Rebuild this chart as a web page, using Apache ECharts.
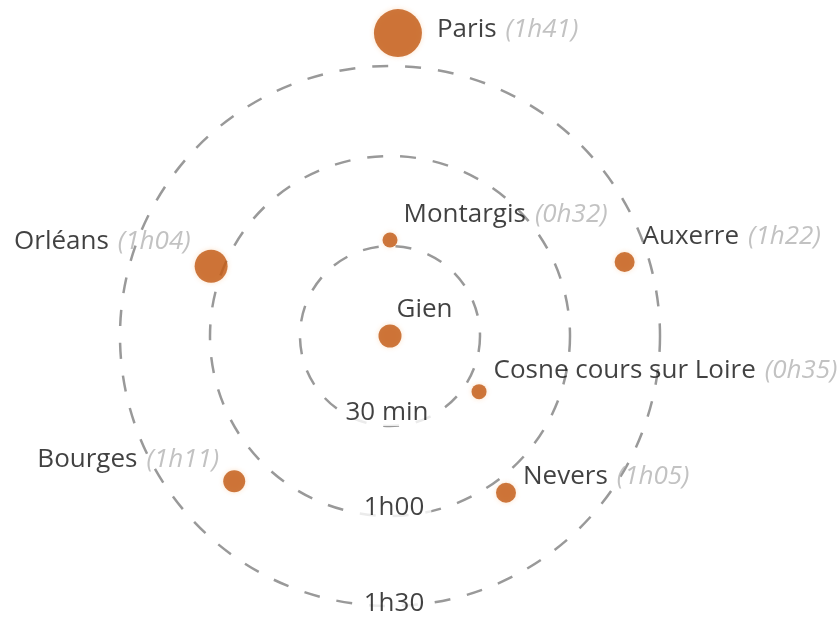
<!DOCTYPE html>
<html>
<head>
<meta charset="utf-8">
<script src="https://cdn.jsdelivr.net/npm/echarts@6/dist/echarts.min.js"></script>
<style>
    html, body { margin: 0; padding: 0; background: #fff; }
    #main { width: 840px; height: 626px; }
</style>
</head>
<body>
<div id="main"></div>
<script>
// temps de trajet depuis Gien
var villes = ['Paris', 'Montargis', 'Auxerre', 'Orléans', 'Gien', 'Cosne cours sur Loire', 'Bourges', 'Nevers'];
var temps = ['1h41', '0h32', '1h22', '1h04', '', '0h35', '1h11', '1h05'];
var minutes = [101, 32, 82, 64, 0, 35, 71, 65];
var directions = [88.5, 90, 17.5, 158.7, 0, 328, 223, 306.5];

// anneaux
var anneaux = [30, 60, 90];
var anneauxLabels = ['30 min', '1h00', '1h30'];

// taille des points et position des étiquettes
var styleVille = {
    'Paris': {size: 48, pos: 'right', dist: 15, dy: -4},
    'Montargis': {size: 15, pos: 'right', dist: 6, dy: -25},
    'Auxerre': {size: 20, pos: 'right', dist: 8, dy: -25},
    'Orléans': {size: 33, pos: 'left', dist: 4, dy: -25},
    'Gien': {size: 23, pos: 'right', dist: -5, dy: -26},
    'Cosne cours sur Loire': {size: 15, pos: 'right', dist: 7, dy: -21},
    'Bourges': {size: 22, pos: 'left', dist: 4, dy: -22},
    'Nevers': {size: 20, pos: 'right', dist: 7, dy: -16}
};
var decalAnneaux = [[-3, -13], [4, -8], [4, -2]];

var police = '"Open Sans", sans-serif';

var points = [];
for (var i = 0; i < villes.length; i++) {
    var st = styleVille[villes[i]];
    points.push({
        name: villes[i],
        value: [minutes[i], directions[i]],
        symbolSize: st.size,
        label: {
            position: st.pos,
            distance: st.dist,
            offset: [0, st.dy],
            formatter: temps[i] ? '{n|' + villes[i] + '}{t|(' + temps[i] + ')}' : '{n|' + villes[i] + '}'
        }
    });
}

var reperes = [];
for (var j = 0; j < anneaux.length; j++) {
    reperes.push({
        value: [anneaux[j], 270],
        label: {offset: decalAnneaux[j], formatter: anneauxLabels[j]}
    });
}

var myChart = echarts.init(document.getElementById('main'));
myChart.setOption({
    backgroundColor: '#fff',
    animation: false,
    polar: {
        center: [390, 336],
        radius: 270
    },
    angleAxis: {
        type: 'value',
        min: 0,
        max: 360,
        startAngle: 0,
        clockwise: false,
        axisLine: {show: false},
        axisTick: {show: false},
        axisLabel: {show: false},
        splitLine: {show: false}
    },
    radiusAxis: {
        type: 'value',
        min: 0,
        max: 90,
        interval: 30,
        axisLine: {show: false},
        axisTick: {show: false},
        axisLabel: {show: false},
        splitLine: {
            show: true,
            lineStyle: {color: '#999', width: 2.5, type: [16, 17]}
        }
    },
    series: [{
        type: 'scatter',
        coordinateSystem: 'polar',
        clip: false,
        z: 3,
        symbolSize: 1,
        itemStyle: {color: 'transparent'},
        label: {
            show: true,
            position: 'inside',
            fontFamily: police,
            fontSize: 26,
            color: '#111',
            backgroundColor: '#fff',
            padding: [0, 7]
        },
        data: reperes
    }, {
        type: 'scatter',
        coordinateSystem: 'polar',
        clip: false,
        z: 4,
        itemStyle: {
            color: '#c15811',
            shadowColor: 'rgba(245, 165, 90, 0.4)',
            shadowBlur: 5
        },
        label: {
            show: true,
            rich: {
                n: {fontFamily: police, fontSize: 26, color: '#111', padding: [0, 9, 0, 0]},
                t: {fontFamily: police, fontSize: 26, fontStyle: 'italic', color: '#b3b3b3'}
            }
        },
        data: points
    }]
});
</script>
</body>
</html>
